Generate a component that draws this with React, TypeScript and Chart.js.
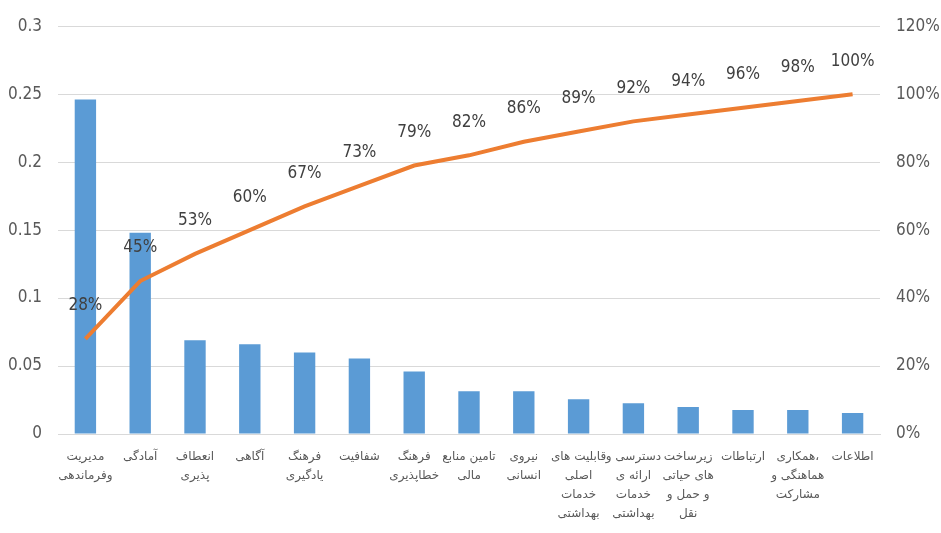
import React, { useEffect, useRef } from "react";
import { Chart, registerables } from "chart.js";

Chart.register(...registerables);

const categories: string[][] = [
  ["مدیریت", "وفرماندهی"],
  ["آمادگی"],
  ["انعطاف", "پذیری"],
  ["آگاهی"],
  ["فرهنگ", "یادگیری"],
  ["شفافیت"],
  ["فرهنگ", "خطاپذیری"],
  ["تامین منابع", "مالی"],
  ["نیروی", "انسانی"],
  ["قابلیت های", "اصلی", "خدمات", "بهداشتی"],
  ["دسترسی و", "ارائه ی", "خدمات", "بهداشتی"],
  ["زیرساخت", "های حیاتی", "و حمل و", "نقل"],
  ["ارتباطات"],
  ["همکاری،", "هماهنگی و", "مشارکت"],
  ["اطلاعات"],
];

const weights: number[] = [
  0.246, 0.148, 0.069, 0.066, 0.06, 0.0556, 0.046, 0.0315, 0.0315, 0.0256,
  0.0227, 0.0198, 0.0176, 0.0176, 0.0154,
];

const cumulative: number[] = [
  0.28, 0.45, 0.53, 0.6, 0.67, 0.73, 0.79, 0.82, 0.86, 0.89, 0.92, 0.94, 0.96,
  0.98, 1.0,
];

const leftTicks: number[] = [0, 0.05, 0.1, 0.15, 0.2, 0.25, 0.3];
const rightTicks: number[] = [0, 0.2, 0.4, 0.6, 0.8, 1.0, 1.2];

const NARROW = "'Liberation Sans Narrow', 'DejaVu Sans Condensed', sans-serif";

const labelPlugin = {
  id: "cumLabels",
  afterDatasetsDraw(chart: any) {
    const meta = chart.getDatasetMeta(1);
    const ctx = chart.ctx;
    ctx.save();
    ctx.font = `17px ${NARROW}`;
    ctx.fillStyle = "#404040";
    ctx.textAlign = "center";
    ctx.textBaseline = "middle";
    meta.data.forEach((pt: any, i: number) => {
      ctx.fillText(Math.round(cumulative[i] * 100) + "%", pt.x, pt.y - 33);
    });
    ctx.restore();
  },
};

export default function App() {
  const ref = useRef<HTMLCanvasElement>(null);
  useEffect(() => {
    document.body.style.margin = "0";
    const chart = new Chart(ref.current!, {
      type: "bar",
      data: {
        labels: categories,
        datasets: [
          {
            type: "bar",
            data: weights,
            backgroundColor: "#5B9BD5",
            yAxisID: "y",
            barPercentage: 0.39,
            categoryPercentage: 1,
            order: 2,
          },
          {
            type: "line",
            data: cumulative,
            borderColor: "#ED7D31",
            borderWidth: 4,
            pointRadius: 0,
            tension: 0,
            yAxisID: "y1",
            order: 1,
          } as any,
        ],
      },
      options: {
        animation: false,
        responsive: false,
        layout: { padding: { top: 13, left: 0, right: 0, bottom: 0 } },
        plugins: { legend: { display: false }, tooltip: { enabled: false } },
        scales: {
          x: {
            grid: { display: false, drawTicks: false },
            border: { display: true, color: "#d9d9d9" },
            ticks: {
              color: "#595959",
              font: { family: "'DejaVu Sans', sans-serif", size: 12, lineHeight: 1.6 },
              padding: 13,
              maxRotation: 0,
              autoSkip: false,
            },
            afterFit(scale: any) {
              scale.height = 99;
            },
          },
          y: {
            position: "left",
            min: 0,
            max: 0.3,
            afterBuildTicks(scale: any) {
              scale.ticks = leftTicks.map((v) => ({ value: v }));
            },
            grid: { color: "#d9d9d9", drawTicks: false },
            border: { display: false },
            ticks: {
              color: "#595959",
              font: { family: NARROW, size: 17 },
              padding: 16,
              callback: (v: any) => String(Math.round(Number(v) * 100) / 100),
            },
            afterFit(scale: any) {
              scale.width = 58;
            },
          },
          y1: {
            position: "right",
            min: 0,
            max: 1.2,
            afterBuildTicks(scale: any) {
              scale.ticks = rightTicks.map((v) => ({ value: v }));
            },
            grid: { display: false, drawTicks: false },
            border: { display: false },
            ticks: {
              color: "#595959",
              font: { family: NARROW, size: 17 },
              padding: 16,
              callback: (v: any) => Math.round(Number(v) * 100) + "%",
            },
            afterFit(scale: any) {
              scale.width = 61;
            },
          },
        },
      },
      plugins: [labelPlugin],
    });
    return () => chart.destroy();
  }, []);
  return (
    <div style={{ width: 941, height: 533 }}>
      <canvas ref={ref} width={941} height={533} style={{ display: "block" }} />
    </div>
  );
}
